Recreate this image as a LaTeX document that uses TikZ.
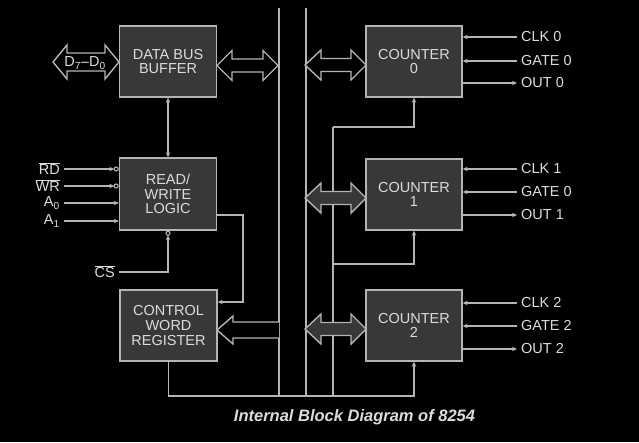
\documentclass[tikz,border=0pt]{standalone}
\usepackage{fontspec}
\setmainfont{Liberation Sans}
\usetikzlibrary{arrows.meta}
\definecolor{boxfill}{HTML}{383838}
\definecolor{edge}{HTML}{B4B4B4}
\definecolor{txt}{HTML}{DCDCDC}
\begin{document}
\begin{tikzpicture}[x=1pt,y=-1pt,
  block/.style={draw=edge, fill=boxfill, line width=1.4pt, minimum width=97pt, minimum height=71pt,
    align=center, text=txt, inner sep=0pt, font=\fontsize{14.5}{14.8}\selectfont},
  wire/.style={draw=edge, line width=1.3pt},
  tip/.style={-{Stealth[length=5pt,width=4.5pt]}},
  btip/.style={{Stealth[length=5pt,width=4.5pt]}-{Stealth[length=5pt,width=4.5pt]}},
  lbl/.style={text=txt, inner ysep=0pt, inner xsep=4pt, font=\fontsize{14.5}{15}\selectfont},
  busar/.style={draw=edge, line width=1.4pt, line join=miter, fill=black},
  bubble/.style={draw=edge, line width=1.1pt, fill=black}]
\path[fill=black] (0,0) rectangle (639,442);
\useasboundingbox (0,0) rectangle (639,442);

% blocks
\node[block] (buf) at (168,61.5) {DATA BUS\\BUFFER};
\node[block, minimum height=72pt] (rw) at (168,194) {READ/\\WRITE\\LOGIC};
\node[block] (cwr) at (168.5,325.5) {CONTROL\\WORD\\REGISTER};
\node[block, minimum width=96pt] (c0) at (414,61.5) {COUNTER\\0};
\node[block, minimum width=96pt] (c1) at (414,194.5) {COUNTER\\1};
\node[block, minimum width=96pt] (c2) at (414,325.5) {COUNTER\\2};

% helper coordinates
\coordinate (busbot) at (0,396);
\coordinate (ctlx) at (333,0);
\coordinate (tap0) at (0,127);
\coordinate (tap1) at (0,264);
\coordinate (rwout) at (0,215);
\coordinate (cwrin) at (0,302);
\coordinate (turn) at (243,0);

% internal bus
\draw[wire] (279,8) -- (279,396);
\draw[wire] (306,8) -- (306,396);

% buffer <-> read/write logic
\draw[wire,btip] (buf.south) -- (rw.north);

% read/write logic -> control word register
\draw[wire,tip] (rw.east |- rwout) -- (turn |- rwout) -- (turn |- cwrin) -- (cwr.east |- cwrin);

% control lines to counters
\draw[wire,tip] (cwr.south) -- (cwr.south |- busbot) -| (c2.south);
\draw[wire] (ctlx |- busbot) -- (ctlx |- tap0);
\draw[wire,tip] (ctlx |- tap0) -| (c0.south);
\draw[wire,tip] (ctlx |- tap1) -| (c1.south);

% double (bus) arrows
\draw[busar] (217,65.5) -- (232,50.5) -- (232,59) -- (263,59) -- (263,50.5) -- (278,65.5)
  -- (263,80.5) -- (263,72) -- (232,72) -- (232,80.5) -- cycle;
\draw[busar] (305,65) -- (321,50) -- (321,58.5) -- (351,58.5) -- (351,50) -- (366,65)
  -- (351,80) -- (351,71.5) -- (321,71.5) -- (321,80) -- cycle;
\draw[busar, fill=boxfill] (305,198) -- (321,183) -- (321,191.5) -- (351,191.5) -- (351,183) -- (366,198)
  -- (351,213) -- (351,204.5) -- (321,204.5) -- (321,213) -- cycle;
\draw[busar, fill=boxfill] (305,329) -- (321,314) -- (321,322.5) -- (351,322.5) -- (351,314) -- (366,329)
  -- (351,344) -- (351,335.5) -- (321,335.5) -- (321,344) -- cycle;
\draw[busar] (279,322) -- (233,322) -- (233,316) -- (217,330) -- (233,344) -- (233,338) -- (279,338);

% external data bus
\draw[busar] (53,62) -- (67,45) -- (67,53) -- (105,53) -- (105,45) -- (119,62)
  -- (105,79) -- (105,71) -- (67,71) -- (67,79) -- cycle;
\node[text=txt, inner sep=0pt, font=\fontsize{14.5}{15}\selectfont] (dbus) at (85,63) {D\textsubscript{7}–D\textsubscript{0}};

% inputs of read/write logic
\node[lbl, anchor=east] (rd) at (64,169) {$\overline{\hbox{RD}}$};
\node[lbl, anchor=east] (wr) at (64,186) {$\overline{\hbox{WR}}$};
\node[lbl, anchor=east] (a0) at (64,203) {A\textsubscript{0}};
\node[lbl, anchor=east] (a1) at (64,221) {A\textsubscript{1}};
\draw[wire,tip] (rd.east) -- ([xshift=-4.5pt]rd.east -| rw.west);
\draw[bubble] ([xshift=-2.6pt]rd.east -| rw.west) circle (2pt);
\draw[wire,tip] (wr.east) -- ([xshift=-4.5pt]wr.east -| rw.west);
\draw[bubble] ([xshift=-2.6pt]wr.east -| rw.west) circle (2pt);
\draw[wire,tip] (a0.east) -- (a0.east -| rw.west);
\draw[wire,tip] (a1.east) -- (a1.east -| rw.west);

\node[lbl, anchor=east] (cs) at (119,272) {$\overline{\hbox{CS}}$};
\draw[wire,tip] (cs.east) -| ([yshift=-4.5pt]rw.south);
\draw[bubble] ([yshift=-2.6pt]rw.south) circle (2pt);

% counter signals
\node[lbl, anchor=west] (clk0) at (517,37) {CLK 0};
\node[lbl, anchor=west] (gate0) at (517,61) {GATE 0};
\node[lbl, anchor=west] (out0) at (517,83) {OUT 0};
\node[lbl, anchor=west] (clk1) at (517,169) {CLK 1};
\node[lbl, anchor=west] (gate1) at (517,192) {GATE 0};
\node[lbl, anchor=west] (out1) at (517,215) {OUT 1};
\node[lbl, anchor=west] (clk2) at (517,303) {CLK 2};
\node[lbl, anchor=west] (gate2) at (517,326) {GATE 2};
\node[lbl, anchor=west] (out2) at (517,349) {OUT 2};
\foreach \c/\k/\g/\o in {c0/clk0/gate0/out0, c1/clk1/gate1/out1, c2/clk2/gate2/out2}{
  \draw[wire,tip] (\k.west) -- (\k.west -| \c.east);
  \draw[wire,tip] (\g.west) -- (\g.west -| \c.east);
  \draw[wire,tip] (\o.west -| \c.east) -- (\o.west);
}

% caption
\node[text=txt, inner sep=0pt, font=\fontsize{16.5}{18}\selectfont\bfseries\itshape] (cap) at (354.5,417) {Internal Block Diagram of 8254};
\end{tikzpicture}
\end{document}
